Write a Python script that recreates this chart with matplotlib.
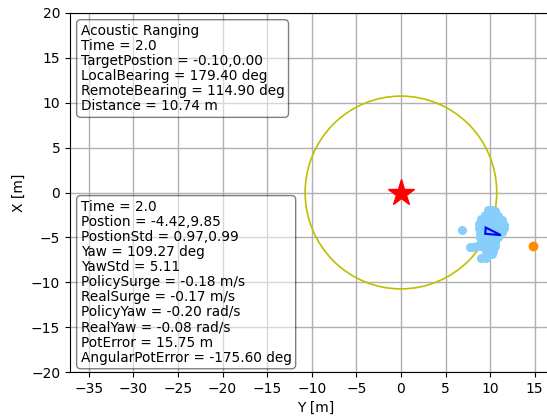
import matplotlib
matplotlib.use("Agg")
import matplotlib.pyplot as plt
from matplotlib.patches import Circle, Polygon

# estimated particle positions (Y, X) in metres
particles_y = [9.8, 10.2, 10.5,
               9.4, 9.8, 10.2, 10.6, 10.9,
               9.0, 9.4, 9.8, 10.2, 10.6, 11.0, 11.3,
               8.8, 9.2, 9.6, 10.0, 10.4, 10.8, 11.2, 11.5,
               8.8, 9.2, 9.6, 10.0, 10.4, 10.8, 11.2, 11.5,
               8.9, 9.3, 9.7, 10.1, 10.5, 10.9, 11.3,
               8.9, 9.3, 9.7, 10.1, 10.5, 10.9,
               9.0, 9.4, 9.8, 10.2, 10.6,
               9.3, 9.7, 10.1, 10.5,
               9.5, 9.9, 10.3,
               9.8, 10.2,
               7.7, 8.1, 8.5, 8.9,
               6.9, 9.0, 9.5]
particles_x = [-2.0, -2.0, -2.1,
               -2.5, -2.5, -2.5, -2.5, -2.6,
               -3.0, -3.0, -3.0, -3.0, -3.0, -3.0, -3.1,
               -3.5, -3.5, -3.5, -3.5, -3.5, -3.5, -3.5, -3.6,
               -4.0, -4.0, -4.0, -4.0, -4.0, -4.0, -4.0, -4.0,
               -4.5, -4.5, -4.5, -4.5, -4.5, -4.5, -4.4,
               -5.0, -5.0, -5.0, -5.0, -5.0, -5.0,
               -5.5, -5.5, -5.5, -5.5, -5.5,
               -6.0, -6.0, -6.0, -6.0,
               -6.5, -6.5, -6.5,
               -6.8, -6.8,
               -6.1, -6.1, -6.0, -6.0,
               -4.2, -7.3, -7.3]

target_y, target_x = 14.8, -6.0
star_y, star_x = 0.0, 0.0
range_radius = 10.74
heading_y = [9.5, 11.2, 9.45]
heading_x = [-3.9, -4.75, -4.6]

acoustic_lines = [
    "Acoustic Ranging",
    "Time = 2.0",
    "TargetPostion = -0.10,0.00",
    "LocalBearing = 179.40 deg",
    "RemoteBearing = 114.90 deg",
    "Distance = 10.74 m",
]
state_lines = [
    "Time = 2.0",
    "Postion = -4.42,9.85",
    "PostionStd = 0.97,0.99",
    "Yaw = 109.27 deg",
    "YawStd = 5.11",
    "PolicySurge = -0.18 m/s",
    "RealSurge = -0.17 m/s",
    "PolicyYaw = -0.20 rad/s",
    "RealYaw = -0.08 rad/s",
    "PotError = 15.75 m",
    "AngularPotError = -175.60 deg",
]

W, H = 547, 416
fig = plt.figure(figsize=(W / 100, H / 100), dpi=100)
# axes runs past the right edge of the figure, as in the reference
ax = fig.add_axes([70 / W, 44 / H, 491.5 / W, 359 / H])
ax.set_xlim(-37.1, 18.0)
ax.set_ylim(-20, 20)
ax.grid(True, color="#b0b0b0", linewidth=1.0)
ax.set_axisbelow(True)

ax.add_patch(Circle((star_y, star_x), range_radius, fill=False, color="y", linewidth=1.2))
ax.plot(particles_y, particles_x, "o", color="lightskyblue", markersize=5.5, zorder=3)
ax.plot(target_y, target_x, "o", color="darkorange", markersize=6, zorder=3)
ax.plot(star_y, star_x, "*", color="red", markersize=20, zorder=4)
ax.add_patch(Polygon(list(zip(heading_y, heading_x)), closed=True, fill=False,
                     edgecolor="blue", linewidth=1.5, zorder=5))

box = dict(boxstyle="round", facecolor="white", alpha=0.5)
ax.text(-35.9, 18.8, "\n".join(acoustic_lines), fontsize=9.8, linespacing=1.1,
        va="top", ha="left", bbox=box)
ax.text(-35.9, -0.8, "\n".join(state_lines), fontsize=9.8, linespacing=1.1,
        va="top", ha="left", bbox=box)

ax.set_xticks(range(-35, 20, 5))
ax.set_yticks(range(-20, 25, 5))
ax.set_xlabel("Y [m]")
ax.set_ylabel("X [m]")

fig.savefig("out.png", dpi=100)
